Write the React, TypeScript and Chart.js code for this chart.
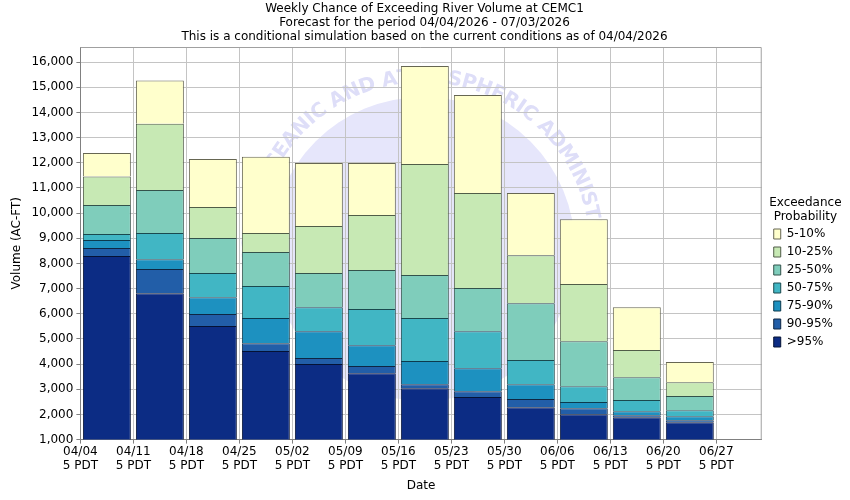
import { useEffect, useRef } from 'react';
import { Chart, registerables } from 'chart.js';

Chart.register(...registerables);

// ---- data -------------------------------------------------------------
const WEEK_LABELS = ['04/04', '04/11', '04/18', '04/25', '05/02', '05/09', '05/16', '05/23', '05/30', '06/06', '06/13', '06/20', '06/27'];
const TICK_TIME = '5 PDT';
const PERIOD_DAYS = 90; // 04/04 .. 07/03
const DAYS_PER_WEEK = 7;

const TITLE_LINES = [
  'Weekly Chance of Exceeding River Volume at CEMC1',
  'Forecast for the period 04/04/2026 - 07/03/2026',
  'This is a conditional simulation based on the current conditions as of 04/04/2026',
];

// exceedance volumes (AC-FT), one value per forecast week
const P95 = [8300, 6820, 5510, 4520, 4000, 3640, 3040, 2690, 2290, 2010, 1890, 1690];
const P90 = [8610, 7780, 5990, 4830, 4240, 3920, 3200, 2920, 2610, 2250, 1970, 1770];
const P75 = [8930, 8170, 6660, 5830, 5310, 4750, 4120, 3840, 3200, 2490, 2130, 1930];
const P50 = [9170, 9210, 7620, 7100, 6260, 6190, 5830, 5310, 4160, 3120, 2570, 2170];
const P25 = [10320, 10920, 9010, 8450, 7620, 7740, 7540, 7020, 6420, 4910, 3480, 2730];
const P10 = [11450, 13550, 10240, 9210, 9490, 9920, 11950, 10800, 8330, 7180, 4560, 3280];
const P05 = [12390, 15270, 12150, 12240, 11990, 11990, 15850, 14690, 10800, 9760, 6260, 4080];

const BAND_LABELS = ['>95%', '90-95%', '75-90%', '50-75%', '25-50%', '10-25%', '5-10%'];
const BAND_COLORS = ['#0c2c84', '#225ea8', '#1d91c0', '#41b6c4', '#7fcdbb', '#c7e9b4', '#ffffcc'];

const Y_TICKS = [1000, 2000, 3000, 4000, 5000, 6000, 7000, 8000, 9000, 10000, 11000, 12000, 13000, 14000, 15000, 16000];
const Y_MIN = 1000;
const Y_MAX = 16600;

// ---- helpers ----------------------------------------------------------
const FONT = "'DejaVu Sans', sans-serif";

function outlineOf(hex: string, a = 0.6): string {
  const n = parseInt(hex.slice(1), 16);
  const r = Math.round(((n >> 16) & 255) * (1 - a));
  const g = Math.round(((n >> 8) & 255) * (1 - a));
  const b = Math.round((n & 255) * (1 - a));
  return `rgb(${r},${g},${b})`;
}

const BOUNDS = [P95, P90, P75, P50, P25, P10, P05];

function bandData(band: number) {
  return BOUNDS[band].map((hi, i) => ({
    x: i * DAYS_PER_WEEK + DAYS_PER_WEEK / 2,
    y: [band === 0 ? 0 : BOUNDS[band - 1][i], hi],
  }));
}

const watermarkPlugin = {
  id: 'noaaWatermark',
  beforeDraw(chart: any) {
    const { ctx, chartArea: a } = chart;
    ctx.save();
    ctx.beginPath();
    ctx.rect(a.left, a.top, a.right - a.left, a.bottom - a.top);
    ctx.clip();
    const cx = 423;
    const cy = 249;
    ctx.fillStyle = '#e6e6fb';
    ctx.beginPath();
    ctx.arc(cx, cy, 152, 0, Math.PI * 2);
    ctx.fill();
    const text = 'NATIONAL OCEANIC AND ATMOSPHERIC ADMINISTRATION';
    const r = 172;
    ctx.font = `bold 20px ${FONT}`;
    ctx.fillStyle = '#dedef8';
    ctx.textAlign = 'center';
    ctx.textBaseline = 'middle';
    const chars = Array.from(text);
    const widths = chars.map((c) => ctx.measureText(c).width);
    const total = widths.reduce((s, w) => s + w, 0);
    let off = 0;
    const start = -Math.PI / 2 - total / (2 * r);
    chars.forEach((c, i) => {
      const ang = start + (off + widths[i] / 2) / r;
      off += widths[i];
      ctx.save();
      ctx.translate(cx + r * Math.cos(ang), cy + r * Math.sin(ang));
      ctx.rotate(ang + Math.PI / 2);
      ctx.fillText(c, 0, 0);
      ctx.restore();
    });
    ctx.restore();
  },
};

const framePlugin = {
  id: 'plotFrame',
  afterDatasetsDraw(chart: any) {
    const { ctx, chartArea: a } = chart;
    ctx.save();
    ctx.strokeStyle = '#a0a0a0';
    ctx.lineWidth = 1;
    ctx.beginPath();
    ctx.moveTo(a.left, a.top + 0.5);
    ctx.lineTo(a.right - 0.5, a.top + 0.5);
    ctx.lineTo(a.right - 0.5, a.bottom);
    ctx.stroke();
    ctx.restore();
  },
};

export default function App() {
  const ref = useRef<HTMLCanvasElement>(null);

  useEffect(() => {
    document.body.style.margin = '0';
    const font = { family: FONT, size: 12 };
    const chart = new Chart(ref.current as HTMLCanvasElement, {
      type: 'bar',
      data: {
        datasets: BAND_LABELS.map((label, b) => ({
          label,
          data: bandData(b) as any,
          backgroundColor: BAND_COLORS[b],
          borderColor: outlineOf(BAND_COLORS[b]),
          borderWidth: 1,
          borderSkipped: 'bottom' as const,
          grouped: false,
          categoryPercentage: 1,
          barPercentage: 0.905,
        })),
      },
      options: {
        responsive: false,
        animation: false,
        layout: { padding: { left: 6, right: 7, top: 0, bottom: 0 } },
        plugins: {
          title: {
            display: true,
            text: TITLE_LINES,
            color: '#000',
            font: { family: FONT, size: 12, weight: 'normal', lineHeight: 14 / 12 },
            padding: { top: 2, bottom: 3 },
          },
          legend: {
            display: true,
            position: 'right',
            align: 'start',
            reverse: true,
            title: {
              display: true,
              text: ['Exceedance', 'Probability'],
              position: 'center',
              color: '#000',
              font: { family: FONT, size: 12, lineHeight: 14 / 12 },
              padding: { top: 197, bottom: 11 },
            },
            labels: {
              boxWidth: 7,
              boxHeight: 10,
              padding: 6,
              color: '#000',
              font,
            },
          },
          tooltip: { enabled: false },
        },
        scales: {
          x: {
            type: 'linear',
            min: 0,
            max: PERIOD_DAYS,
            offset: false,
            grid: { offset: false, color: '#c4c4c4', tickLength: 4, tickColor: '#808080' },
            border: { color: '#808080' },
            afterBuildTicks: (scale: any) => {
              scale.ticks = WEEK_LABELS.map((_, i) => ({ value: i * DAYS_PER_WEEK }));
            },
            ticks: {
              autoSkip: false,
              maxRotation: 0,
              padding: 1,
              color: '#000',
              font: { family: FONT, size: 12, lineHeight: 14 / 12 },
              callback: (v: any) => [WEEK_LABELS[Math.round(Number(v) / DAYS_PER_WEEK)], TICK_TIME],
            },
            title: {
              display: true,
              text: 'Date',
              color: '#000',
              font,
              padding: { top: 5, bottom: 7 },
            },
          },
          y: {
            type: 'linear',
            min: Y_MIN,
            max: Y_MAX,
            grid: { color: '#c4c4c4', tickLength: 4, tickColor: '#808080' },
            border: { color: '#808080' },
            afterBuildTicks: (scale: any) => {
              scale.ticks = Y_TICKS.map((value) => ({ value }));
            },
            ticks: {
              autoSkip: false,
              padding: 3,
              color: '#000',
              font,
              callback: (v: any) => Number(v).toLocaleString('en-US'),
            },
            title: {
              display: true,
              text: 'Volume (AC-FT)',
              color: '#000',
              font,
              padding: { top: 4, bottom: 4 },
            },
          },
          gap: {
            type: 'linear',
            position: 'right',
            display: true,
            grid: { display: false, drawTicks: false },
            border: { display: false },
            ticks: { display: false },
            afterFit: (scale: any) => {
              scale.width = 6;
            },
          },
        },
      } as any,
      plugins: [watermarkPlugin, framePlugin],
    });
    return () => chart.destroy();
  }, []);

  return (
    <div style={{ width: 850, height: 500, position: 'relative' }}>
      <canvas ref={ref} width={850} height={500} style={{ display: 'block' }} />
    </div>
  );
}
